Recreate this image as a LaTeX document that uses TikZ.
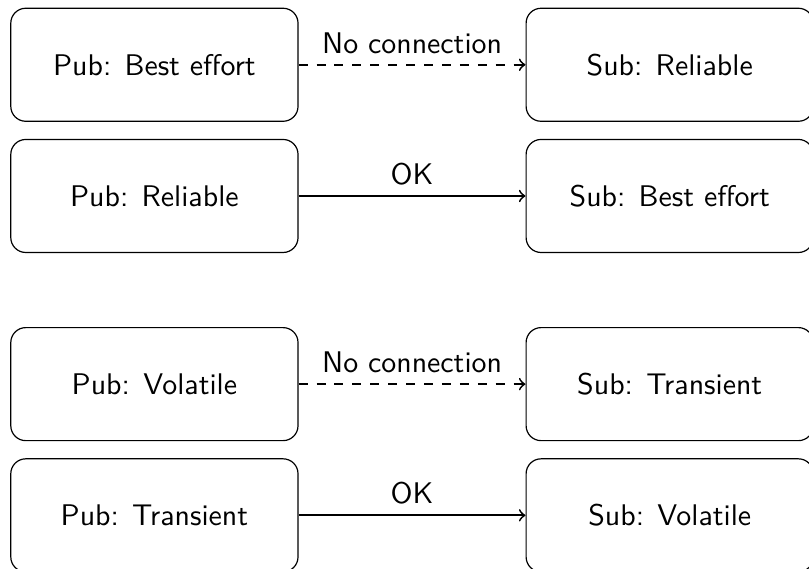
\documentclass[tikz,border=0pt]{standalone}
\usetikzlibrary{positioning}

\begin{document}
\begin{tikzpicture}[->, auto, font=\sffamily, every edge/.style={draw, semithick}, qos node/.style={draw, rounded corners=5pt, minimum width=3.38cm, minimum height=1.33cm}]
\useasboundingbox (0,0) rectangle (9.52,-6.69);

\node [qos node, anchor=north west] (pub1) at (0.12,-0.09) {Pub: Best effort};
\node [qos node, below=0.2cm of pub1] (pub2) {Pub: Reliable};
\node [qos node, below=0.87cm of pub2] (pub3) {Pub: Volatile};
\node [qos node, below=0.2cm of pub3] (pub4) {Pub: Transient};

\node [qos node, right=2.67cm of pub1] (sub1) {Sub: Reliable};
\node [qos node, right=2.67cm of pub2] (sub2) {Sub: Best effort};
\node [qos node, right=2.67cm of pub3] (sub3) {Sub: Transient};
\node [qos node, right=2.67cm of pub4] (sub4) {Sub: Volatile};

\draw (pub1) edge [dashed] node {No connection} (sub1);
\draw (pub2) edge node {OK} (sub2);
\draw (pub3) edge [dashed] node {No connection} (sub3);
\draw (pub4) edge node {OK} (sub4);
\end{tikzpicture}
\end{document}
